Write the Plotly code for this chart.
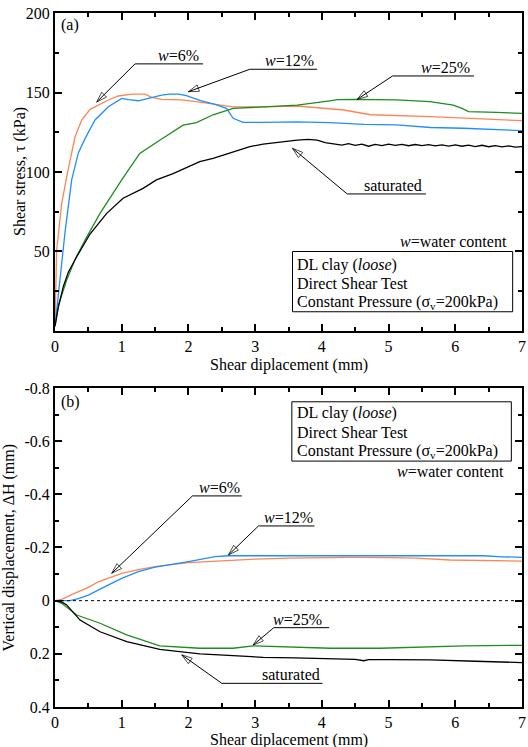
import plotly.graph_objects as go
from plotly.subplots import make_subplots

# ---------------- (a) shear stress vs shear displacement ----------------
x_a_w6 = [0, 0.025, 0.1, 0.175, 0.3, 0.4, 0.525, 0.65, 0.8, 0.95, 1.15, 1.35, 1.45, 1.6,
          1.9, 2.17, 2.67, 3.13, 3.63, 4.33, 4.73, 5.63, 6.3, 7.0]
tau_w6 = [3, 51, 80, 97, 122, 132.7, 139.4, 142, 145.3, 147.8, 149, 149, 147, 145.7,
          145.3, 144, 141, 141, 141.5, 139, 136, 134.8, 133.5, 132.3]

x_a_w12 = [0, 0.05, 0.15, 0.25, 0.35, 0.45, 0.6, 0.8, 1.0, 1.1, 1.25, 1.4, 1.6, 1.72, 1.85,
           1.97, 2.17, 2.4, 2.57, 2.67, 2.82, 3.12, 3.63, 4.12, 4.63, 5.12, 5.63, 6.12, 7.0]
tau_w12 = [3, 23.7, 62, 95, 112, 121, 132.7, 141, 146.3, 145.5, 144.8, 146.3, 148.4, 149, 149,
           148, 145, 142.5, 140, 133.8, 131.2, 131.2, 131.5, 131, 130, 129.6, 128, 127.5, 126]

x_a_w25 = [0, 0.05, 0.175, 0.3, 0.475, 0.675, 1.0, 1.27, 1.57, 1.92, 2.12, 2.37, 2.67, 3.12,
           3.63, 4.12, 4.23, 4.52, 5.12, 5.62, 5.97, 6.1, 6.2, 6.62, 7.0]
tau_w25 = [3, 16, 32, 45, 59, 74, 95, 111.7, 120, 129.5, 131, 136, 140, 141,
           142, 144.8, 145.5, 145.7, 145.3, 144.2, 142.1, 140, 138, 137.5, 136.9]

x_a_sat = [0, 0.05, 0.125, 0.2, 0.325, 0.525, 0.775, 1.02, 1.32, 1.52, 1.77, 1.97, 2.17, 2.37,
           2.57, 2.75, 2.92, 3.12, 3.4, 3.63, 3.8, 3.93, 4.05, 4.2, 4.3, 4.4, 4.5, 4.6, 4.7,
           4.8, 4.9, 5.0, 5.1, 5.2, 5.3, 5.4, 5.5, 5.6, 5.7, 5.8, 5.9, 6.0, 6.1, 6.2, 6.3,
           6.4, 6.5, 6.6, 6.7, 6.8, 6.9, 7.0]
tau_sat = [3, 15, 28, 37, 46.7, 61, 74, 83.5, 89.7, 95, 99, 102.5, 106.5, 108.6,
           111.3, 114.2, 116, 117.5, 119, 120, 120.5, 120, 118.5, 117.6, 116.9, 117.8, 116.8, 117.5, 116.2,
           117.4, 116.6, 117.5, 116.7, 117.4, 116.5, 117.3, 116.6, 117.2, 116.4, 117.1, 116.3, 117.0, 116.2, 116.9, 116.0,
           116.8, 115.9, 116.6, 115.8, 116.4, 115.6, 116.0]

# ---------------- (b) vertical displacement vs shear displacement ----------------
x_b_w6 = [0, 0.1, 0.3, 0.5, 0.65, 0.8, 1.0, 1.25, 1.5, 2.0, 2.5, 3.0, 3.5, 4.42, 5.0, 5.42,
          5.92, 6.5, 7.0]
dh_w6 = [0, -0.005, -0.028, -0.05, -0.071, -0.085, -0.103, -0.117, -0.128, -0.143, -0.150,
         -0.156, -0.160, -0.163, -0.162, -0.160, -0.153, -0.150, -0.149]

x_b_w12 = [0, 0.225, 0.35, 0.5, 0.75, 1.0, 1.25, 1.5, 2.0, 2.4, 2.6, 3.0, 4.0, 4.92, 5.5,
           6.42, 6.7, 7.0]
dh_w12 = [0, 0, -0.008, -0.021, -0.053, -0.084, -0.109, -0.126, -0.147, -0.166, -0.169,
          -0.169, -0.168, -0.169, -0.169, -0.169, -0.165, -0.163]

x_b_w25 = [0, 0.1, 0.325, 0.675, 1.075, 1.3, 1.57, 2.17, 2.67, 2.97, 3.13, 3.6, 4.13, 4.88,
           5.5, 6.13, 7.0]
dh_w25 = [0, 0.01, 0.054, 0.085, 0.129, 0.148, 0.17, 0.179, 0.179, 0.17, 0.171, 0.175,
          0.179, 0.179, 0.175, 0.17, 0.168]

x_b_sat = [0, 0.1, 0.175, 0.375, 0.675, 1.075, 1.57, 2.17, 2.67, 3.12, 3.6, 4.13, 4.5, 4.63,
           4.7, 5.0, 5.63, 6.3, 6.93, 7.0]
dh_sat = [0, 0.005, 0.016, 0.073, 0.117, 0.154, 0.183, 0.200, 0.207, 0.213, 0.215, 0.22,
          0.221, 0.226, 0.222, 0.222, 0.223, 0.228, 0.233, 0.233]

x_ticks = [0, 1, 2, 3, 4, 5, 6, 7]
tau_ticks = [50, 100, 150, 200]
dh_ticks = [-0.8, -0.6, -0.4, -0.2, 0, 0.2, 0.4]
dh_tick_text = ["-0.8", "-0.6", "-0.4", "-0.2", "0", "0.2", "0.4"]

C_W6 = "#ff8452"
C_W12 = "#1e8fff"
C_W25 = "#1f8c1f"
C_SAT = "#000000"
FONT = '"Liberation Serif", "Times New Roman", Times, "DejaVu Serif", serif'
FS = 16

fig = make_subplots(rows=2, cols=1)

series_a = [(x_a_w6, tau_w6, C_W6), (x_a_w12, tau_w12, C_W12),
            (x_a_w25, tau_w25, C_W25), (x_a_sat, tau_sat, C_SAT)]
series_b = [(x_b_w6, dh_w6, C_W6), (x_b_w12, dh_w12, C_W12),
            (x_b_w25, dh_w25, C_W25), (x_b_sat, dh_sat, C_SAT)]
for xs, ys, c in series_a:
    fig.add_trace(go.Scatter(x=xs, y=ys, mode="lines", line=dict(color=c, width=1.3),
                             showlegend=False, hoverinfo="skip"), row=1, col=1)
for xs, ys, c in series_b:
    fig.add_trace(go.Scatter(x=xs, y=ys, mode="lines", line=dict(color=c, width=1.3),
                             showlegend=False, hoverinfo="skip"), row=2, col=1)

axis_common = dict(showline=True, linecolor="black", linewidth=2, mirror="allticks",
                   ticks="inside", ticklen=7, tickwidth=1.5, tickcolor="black",
                   showgrid=False, zeroline=False,
                   tickfont=dict(family=FONT, size=FS, color="black"), automargin=False)

fig.update_xaxes(range=[0, 7], tickvals=x_ticks,
                 minor=dict(ticks="inside", ticklen=4, tickwidth=1.5, dtick=0.5, tick0=0,
                            tickcolor="black"),
                 **axis_common)
fig.update_yaxes(range=[0, 200], tickvals=tau_ticks,
                 minor=dict(ticks="inside", ticklen=4, tickwidth=1.5, dtick=25, tick0=0,
                            tickcolor="black"),
                 row=1, col=1, **axis_common)
fig.update_yaxes(range=[0.4, -0.8], tickvals=dh_ticks, ticktext=dh_tick_text,
                 minor=dict(ticks="inside", ticklen=4, tickwidth=1.5, dtick=0.1, tick0=0,
                            tickcolor="black"),
                 row=2, col=1, **axis_common)

fig.update_layout(
    width=528, height=747,
    margin=dict(l=55, r=6, t=13, b=40),
    paper_bgcolor="white", plot_bgcolor="white",
    font=dict(family=FONT, size=FS, color="black"),
    xaxis=dict(domain=[0, 1]), xaxis2=dict(domain=[0, 1]),
    yaxis=dict(domain=[0.5418, 1]), yaxis2=dict(domain=[0, 0.4597]),
)

annotations = []
shapes = []

# zero reference line in (b)
shapes.append(dict(type="line", xref="x2", yref="y2", x0=0, x1=7, y0=0, y1=0,
                   line=dict(color="black", width=1, dash="dot")))


def callout(row, label, tip, tail, under_end, text_right):
    """Underlined label with a leader line ending in an open arrowhead on a curve."""
    xr, yr = ("x", "y") if row == 1 else ("x2", "y2")
    ax_, ay_ = tail
    shapes.append(dict(type="line", xref=xr, yref=yr, x0=ax_, y0=ay_, x1=under_end, y1=ay_,
                       line=dict(color="black", width=1)))
    fig.add_trace(go.Scatter(x=[ax_, tip[0]], y=[ay_, tip[1]], mode="lines+markers",
                             line=dict(color="black", width=1),
                             marker=dict(symbol="arrow-open", size=[0, 11], angleref="previous",
                                         color="black", line=dict(color="black", width=1)),
                             showlegend=False, hoverinfo="skip"), row=row, col=1)
    annotations.append(dict(xref=xr, yref=yr, x=text_right, y=ay_, text=label,
                            showarrow=False, xanchor="right", yanchor="bottom", yshift=-2,
                            font=dict(family=FONT, size=FS, color="black")))


# (a) call-outs
callout(1, "<i>w</i>=6%", (0.625, 144), (1.20, 168), 2.22, 2.19)
callout(1, "<i>w</i>=12%", (2.0, 150.5), (2.92, 164.6), 3.93, 3.91)
callout(1, "<i>w</i>=25%", (4.53, 145.7), (5.06, 160.4), 6.28, 6.25)
callout(1, "saturated", (3.56, 114.9), (4.38, 86.2), 5.56, 5.53)

# (b) call-outs
callout(2, "<i>w</i>=6%", (0.85, -0.103), (2.06, -0.394), 2.80, 2.80)
callout(2, "<i>w</i>=12%", (2.6, -0.172), (3.05, -0.281), 3.89, 3.89)
callout(2, "<i>w</i>=25%", (2.97, 0.167), (3.28, 0.1016), 4.11, 4.03)
callout(2, "saturated", (1.9, 0.204), (2.5, 0.311), 4.01, 4.00)

# panel letters
annotations.append(dict(xref="x", yref="y", x=0.06, y=192.5, text="(a)", showarrow=False,
                        xanchor="left", yanchor="middle"))
annotations.append(dict(xref="x2", yref="y2", x=0.06, y=-0.748, text="(b)", showarrow=False,
                        xanchor="left", yanchor="middle"))

box_lines = ["DL clay (<i>loose</i>)", "Direct Shear Test",
             "Constant Pressure (σ<sub>v</sub>=200kPa)"]

# (a) info box and note
shapes.append(dict(type="rect", xref="x", yref="y", x0=3.56, x1=6.86, y0=12.1, y1=50,
                   line=dict(color="black", width=1), fillcolor="white", layer="above"))
for i, t in enumerate(box_lines):
    annotations.append(dict(xref="x", yref="y", x=3.60, y=41.5 - i * 11.9, text=t,
                            showarrow=False, xanchor="left", yanchor="middle"))
annotations.append(dict(xref="x", yref="y", x=6.80, y=56, text="<i>w</i>=water content",
                        showarrow=False, xanchor="right", yanchor="middle"))

# (b) info box and note
shapes.append(dict(type="rect", xref="x2", yref="y2", x0=3.55, x1=6.84, y0=-0.748, y1=-0.525,
                   line=dict(color="black", width=1), fillcolor="white", layer="above"))
for i, t in enumerate(box_lines):
    annotations.append(dict(xref="x2", yref="y2", x=3.60, y=-0.705 + i * 0.0715, text=t,
                            showarrow=False, xanchor="left", yanchor="middle"))
annotations.append(dict(xref="x2", yref="y2", x=6.76, y=-0.485, text="<i>w</i>=water content",
                        showarrow=False, xanchor="right", yanchor="middle"))

# axis titles
annotations.append(dict(xref="paper", yref="paper", x=0.5, y=0.5418, yshift=-34,
                        text="Shear diplacement (mm)", showarrow=False,
                        xanchor="center", yanchor="middle"))
annotations.append(dict(xref="paper", yref="paper", x=0.5, y=0, yshift=-33,
                        text="Shear diplacement (mm)", showarrow=False,
                        xanchor="center", yanchor="middle"))
annotations.append(dict(xref="paper", yref="y", x=0, xshift=-35, y=100,
                        text="Shear stress, τ (kPa)", textangle=-90, showarrow=False,
                        xanchor="center", yanchor="middle"))
annotations.append(dict(xref="paper", yref="y2", x=0, xshift=-46, y=-0.2,
                        text="Vertical displacement, ΔH (mm)", textangle=-90, showarrow=False,
                        xanchor="center", yanchor="middle"))

fig.update_layout(annotations=annotations, shapes=shapes)
fig.write_html("out.html")
